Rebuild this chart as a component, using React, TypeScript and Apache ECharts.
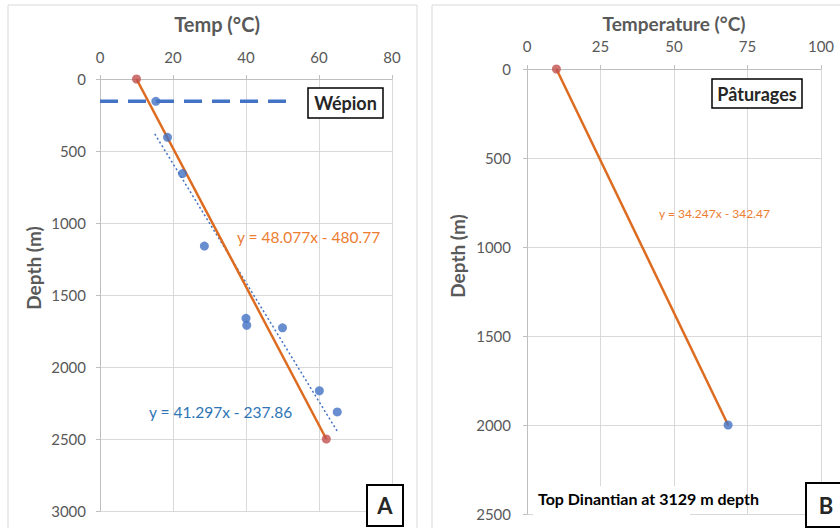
import React, { useEffect, useRef } from "react";
import * as echarts from "echarts";

// Panel A (Wépion)
const aTempTicks = [0, 20, 40, 60, 80];
const aDepthTicks = [0, 500, 1000, 1500, 2000, 2500, 3000];
const aMeasured: [number, number][] = [
  [15.3, 155], [18.5, 405], [22.6, 657], [28.6, 1160], [40.0, 1662],
  [40.2, 1710], [50.0, 1728], [60.1, 2165], [65.0, 2312],
];
const aEndpoints: [number, number][] = [[10, 0], [62, 2500]];
const aBlueTrend = { slope: 41.297, intercept: -237.86, xFrom: 15, xTo: 65 };
const aWepionDepth = 155;
const aWepionLineTo = 51;

// Panel B (Pâturages)
const bTempTicks = [0, 25, 50, 75, 100];
const bDepthTicks = [0, 500, 1000, 1500, 2000, 2500];
const bSurface: [number, number][] = [[10, 0]];
const bBottom: [number, number][] = [[68.4, 2000]];

const FONT = "Lato, 'Open Sans', sans-serif";
const GRAY = "#595959";
const BLUE = "#4472C4";
const RED = "#C0504D";
const ORANGE = "#DD6B20";

function axisX(grid: number, ticks: number[], labelMargin: number) {
  return {
    gridIndex: grid,
    type: "value",
    position: "top",
    min: ticks[0],
    max: ticks[ticks.length - 1],
    interval: ticks[1] - ticks[0],
    axisLine: { show: true, onZero: false, lineStyle: { color: "#BFBFBF", width: 1 } },
    axisTick: { show: true, length: 4, lineStyle: { color: "#BFBFBF" } },
    axisLabel: { color: GRAY, fontSize: 15, fontFamily: FONT, margin: labelMargin, formatter: (v: number) => String(v) },
    splitLine: { show: true, lineStyle: { color: "#D9D9D9", width: 1 } },
  };
}
function axisY(grid: number, ticks: number[], labelMargin: number) {
  return {
    gridIndex: grid,
    type: "value",
    inverse: true,
    min: ticks[0],
    max: ticks[ticks.length - 1],
    interval: ticks[1] - ticks[0],
    axisLine: { show: true, onZero: false, lineStyle: { color: "#BFBFBF", width: 1 } },
    axisTick: { show: true, length: 4, lineStyle: { color: "#BFBFBF" } },
    axisLabel: { color: GRAY, fontSize: 15, fontFamily: FONT, margin: labelMargin, formatter: (v: number) => String(v) },
    splitLine: { show: true, lineStyle: { color: "#D9D9D9", width: 1 } },
  };
}

function boxText(x: number, y: number, w: number, h: number, text: string, size: number, lw = 1.5) {
  return {
    type: "group",
    z: 20,
    children: [
      { type: "rect", z: 20, shape: { x, y, width: w, height: h }, style: { fill: "#fff", stroke: "#000", lineWidth: lw } },
      {
        type: "text", z: 21, x: x + w / 2, y: y + h / 2,
        style: { text, align: "center", verticalAlign: "middle", fill: "#262626", font: `bold ${size}px ${FONT}` },
      },
    ],
  };
}

export default function App() {
  const ref = useRef<HTMLDivElement>(null);
  useEffect(() => {
    document.body.style.margin = "0";
    const chart = echarts.init(ref.current!, null, { renderer: "svg" });
    const trendPts: [number, number][] = [
      [aBlueTrend.xFrom, aBlueTrend.slope * aBlueTrend.xFrom + aBlueTrend.intercept],
      [aBlueTrend.xTo, aBlueTrend.slope * aBlueTrend.xTo + aBlueTrend.intercept],
    ];
    chart.setOption({
      animation: false,
      backgroundColor: "#fff",
      grid: [
        { left: 100, top: 79, width: 292, height: 432 },
        { left: 527, top: 69, width: 294, height: 445 },
      ],
      xAxis: [axisX(0, aTempTicks, 15), axisX(1, bTempTicks, 16)],
      yAxis: [axisY(0, aDepthTicks, 14), axisY(1, bDepthTicks, 16)],
      series: [
        {
          type: "line", xAxisIndex: 0, yAxisIndex: 0, z: 3,
          data: [[0, aWepionDepth], [aWepionLineTo, aWepionDepth]],
          symbol: "none", lineStyle: { color: BLUE, width: 3.5, type: [18, 10] },
        },
        {
          type: "line", xAxisIndex: 0, yAxisIndex: 0, z: 3,
          data: trendPts, symbol: "none",
          lineStyle: { color: BLUE, width: 1.5, type: [2, 2.5] },
        },
        {
          type: "line", xAxisIndex: 0, yAxisIndex: 0, z: 4,
          data: aEndpoints, symbol: "none", lineStyle: { color: ORANGE, width: 2.5 },
        },
        {
          type: "scatter", xAxisIndex: 0, yAxisIndex: 0, z: 5,
          data: aMeasured, symbolSize: 9, itemStyle: { color: BLUE },
        },
        {
          type: "scatter", xAxisIndex: 0, yAxisIndex: 0, z: 5,
          data: aEndpoints, symbolSize: 9, itemStyle: { color: RED },
        },
        {
          type: "line", xAxisIndex: 1, yAxisIndex: 1, z: 4,
          data: [...bSurface, ...bBottom], symbol: "none", lineStyle: { color: ORANGE, width: 2.5 },
        },
        {
          type: "scatter", xAxisIndex: 1, yAxisIndex: 1, z: 5,
          data: bSurface, symbolSize: 9, itemStyle: { color: RED },
        },
        {
          type: "scatter", xAxisIndex: 1, yAxisIndex: 1, z: 5,
          data: bBottom, symbolSize: 9, itemStyle: { color: BLUE },
        },
      ],
      graphic: [
        { type: "rect", z: 1, shape: { x: 8, y: 5, width: 409, height: 540 }, style: { fill: "none", stroke: "#D9D9D9", lineWidth: 1 } },
        { type: "rect", z: 1, shape: { x: 432, y: 5, width: 420, height: 540 }, style: { fill: "none", stroke: "#D9D9D9", lineWidth: 1 } },
        { type: "text", z: 10, x: 217, y: 24, style: { text: "Temp (°C)", align: "center", verticalAlign: "middle", fill: GRAY, font: `bold 20px ${FONT}` } },
        { type: "text", z: 10, x: 674, y: 23, style: { text: "Temperature (°C)", align: "center", verticalAlign: "middle", fill: GRAY, font: `bold 19px ${FONT}` } },
        { type: "text", z: 10, x: 33, y: 268, rotation: Math.PI / 2, style: { text: "Depth (m)", align: "center", verticalAlign: "middle", fill: GRAY, font: `bold 19px ${FONT}` } },
        { type: "text", z: 10, x: 457, y: 256, rotation: Math.PI / 2, style: { text: "Depth (m)", align: "center", verticalAlign: "middle", fill: GRAY, font: `bold 19px ${FONT}` } },
        { type: "text", z: 10, x: 237, y: 237, style: { text: "y = 48.077x - 480.77", align: "left", verticalAlign: "middle", fill: "#ED7D31", font: `15.5px ${FONT}` } },
        { type: "text", z: 10, x: 149, y: 412, style: { text: "y = 41.297x - 237.86", align: "left", verticalAlign: "middle", fill: "#2E75B6", font: `15.5px ${FONT}` } },
        { type: "text", z: 10, x: 659, y: 213, style: { text: "y = 34.247x - 342.47", align: "left", verticalAlign: "middle", fill: "#ED7D31", font: `12px ${FONT}` } },
        boxText(308, 88, 75, 30, "Wépion", 18),
        boxText(712, 79, 90, 29, "Pâturages", 18),
        boxText(367, 485, 36, 41, "A", 22, 2),
        boxText(806, 483, 40, 44, "B", 22, 2),
        { type: "rect", z: 15, shape: { x: 533, y: 486, width: 157, height: 30 }, style: { fill: "#fff" } },
        { type: "text", z: 16, x: 538, y: 498, style: { text: "Top Dinantian at 3129 m depth", align: "left", verticalAlign: "middle", fill: "#000", font: `bold 16px ${FONT}` } },
      ],
    });
    return () => chart.dispose();
  }, []);
  return <div ref={ref} style={{ width: 840, height: 528 }} />;
}
